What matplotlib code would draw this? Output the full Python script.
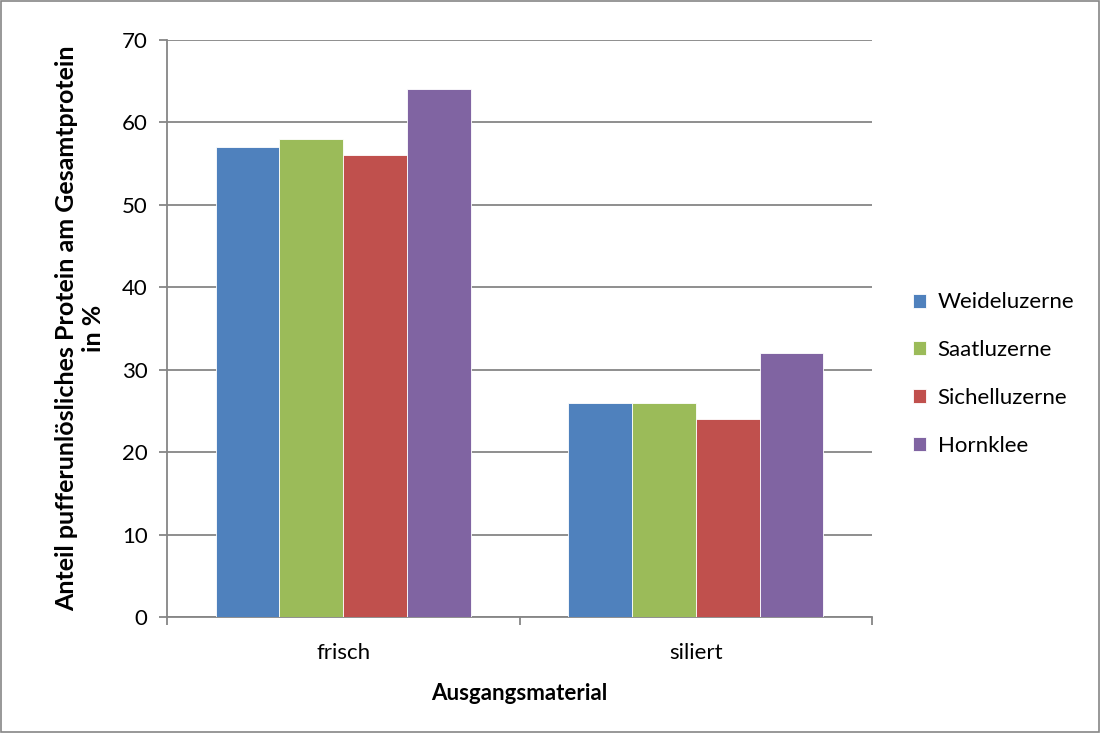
import matplotlib.pyplot as plt
import numpy as np
from matplotlib.patches import Rectangle

plt.rcParams['font.family'] = ['Lato', 'DejaVu Sans']

categories = ['frisch', 'siliert']
series = ['Weideluzerne', 'Saatluzerne', 'Sichelluzerne', 'Hornklee']
values = {
    'Weideluzerne': [57, 26],
    'Saatluzerne': [58, 26],
    'Sichelluzerne': [56, 24],
    'Hornklee': [64, 32],
}
colors = ['#4f81bd', '#9bbb59', '#c0504d', '#8064a2']

fig = plt.figure(figsize=(11.01, 7.33), dpi=100)
ax = fig.add_axes([167 / 1101, 1 - 617 / 733, (872 - 167) / 1101, (617 - 40) / 733])

# figure border
fig.patches.append(Rectangle((0.001, 0.001), 0.997, 0.997, transform=fig.transFigure,
                             fill=False, edgecolor='#868686', linewidth=1.2))

x = np.arange(len(categories)) + 0.5
w = 0.181
for i, (name, c) in enumerate(zip(series, colors)):
    ax.bar(x + (i - 1.5) * w, values[name], width=w, color=c, edgecolor='white',
           linewidth=0.6, label=name, zorder=3)

ax.set_xlim(0, 2)
ax.set_ylim(0, 70)
ax.set_yticks(range(0, 71, 10))
ax.yaxis.grid(True, color='#868686', linewidth=1.3, zorder=0)
ax.set_axisbelow(True)

ax.set_xticks([0, 1, 2])
ax.set_xticklabels([])
ax.set_xticks(x, minor=True)
ax.set_xticklabels(categories, minor=True, fontsize=16)
ax.tick_params(axis='x', which='minor', length=0, pad=19)
ax.tick_params(axis='x', which='major', length=6, color='#868686', width=1.3, direction='out')
ax.tick_params(axis='y', length=6, color='#868686', width=1.3, labelsize=16, pad=8)

for s in ['top', 'right']:
    ax.spines[s].set_visible(False)
for s in ['left', 'bottom']:
    ax.spines[s].set_color('#868686')
    ax.spines[s].set_linewidth(1.3)

ax.set_xlabel('Ausgangsmaterial', fontsize=16, fontweight='bold', labelpad=14)
ax.set_ylabel('Anteil pufferunlösliches Protein am Gesamtprotein\nin %', fontsize=18,
              fontweight='bold', labelpad=12, linespacing=1.2)

ax.legend(loc='center left', bbox_to_anchor=(1.03, 0.421), frameon=False, fontsize=16,
          handlelength=0.6, handleheight=0.6, handletextpad=0.5, labelspacing=1.25)

fig.savefig('out.png', dpi=100)
